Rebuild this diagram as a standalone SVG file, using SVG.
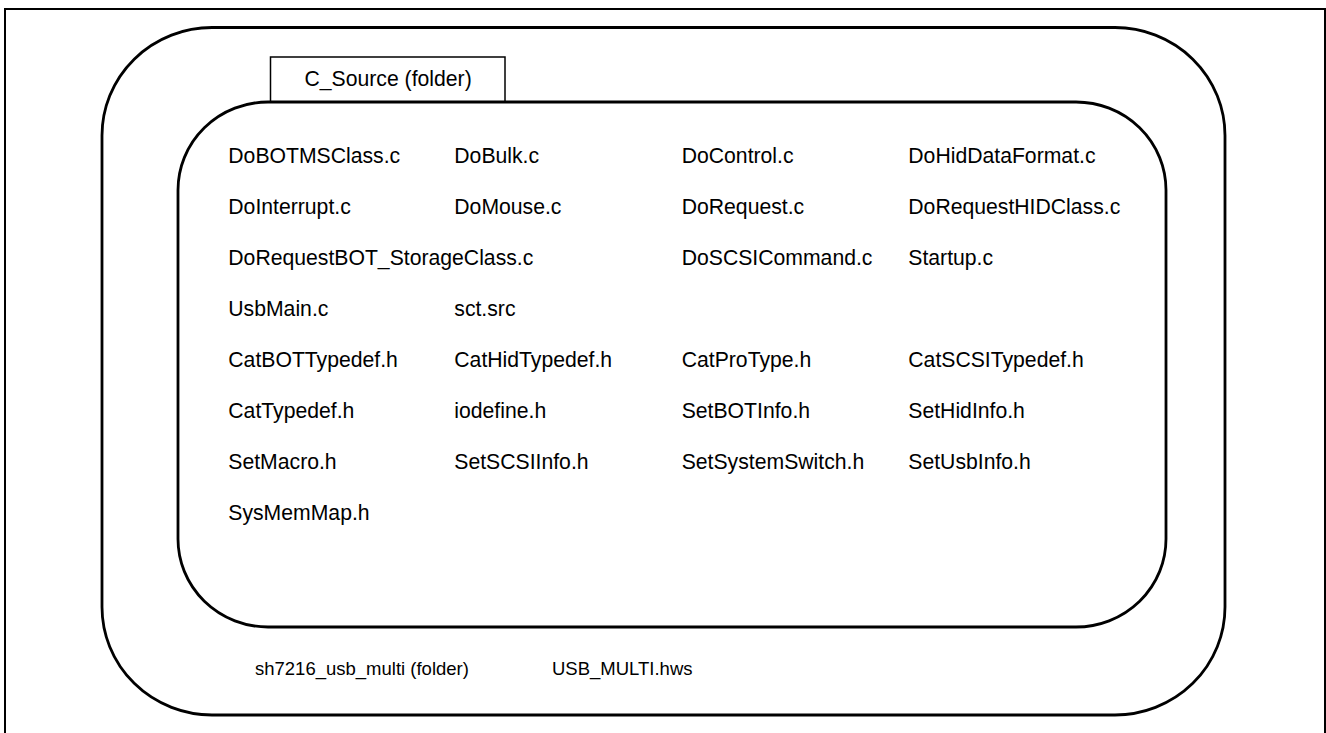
<svg xmlns="http://www.w3.org/2000/svg" width="1326" height="733" viewBox="0 0 1326 733">
<style>
.t{font-family:"Liberation Sans",Arial,sans-serif;font-size:21.2px;fill:#000}
.b{font-family:"Liberation Sans",Arial,sans-serif;font-size:18.5px;fill:#000}
.box{fill:none;stroke:#000}
</style>
<rect x="0" y="0" width="1326" height="733" fill="#fff"/>
<rect id="frame" class="box" x="5" y="9" width="1320" height="730" stroke-width="2"/>
<g id="sh7216_usb_multi">
<rect class="box" x="102" y="27.5" width="1123" height="687.5" rx="110" ry="108" stroke-width="2.8"/>
<text class="b" x="255" y="675">sh7216_usb_multi (folder)</text>
<text class="b" x="552" y="675">USB_MULTI.hws</text>
</g>
<g id="C_Source">
<rect class="box" x="270.5" y="57" width="234.5" height="45" stroke-width="1.5" fill="#fff"/>
<text class="t" x="304.5" y="86">C_Source (folder)</text>
<rect class="box" x="178" y="102" width="988" height="525" rx="90" ry="88" stroke-width="2.8"/>
</g>
<g id="files">
<text class="t" x="228.3" y="163">DoBOTMSClass.c</text>
<text class="t" x="454.3" y="163">DoBulk.c</text>
<text class="t" x="681.7" y="163">DoControl.c</text>
<text class="t" x="908.3" y="163">DoHidDataFormat.c</text>
<text class="t" x="228.3" y="214">DoInterrupt.c</text>
<text class="t" x="454.3" y="214">DoMouse.c</text>
<text class="t" x="681.7" y="214">DoRequest.c</text>
<text class="t" x="908.3" y="214">DoRequestHIDClass.c</text>
<text class="t" x="228.3" y="265">DoRequestBOT_StorageClass.c</text>
<text class="t" x="681.7" y="265">DoSCSICommand.c</text>
<text class="t" x="908.3" y="265">Startup.c</text>
<text class="t" x="228.3" y="316">UsbMain.c</text>
<text class="t" x="454.3" y="316">sct.src</text>
<text class="t" x="228.3" y="367">CatBOTTypedef.h</text>
<text class="t" x="454.3" y="367">CatHidTypedef.h</text>
<text class="t" x="681.7" y="367">CatProType.h</text>
<text class="t" x="908.3" y="367">CatSCSITypedef.h</text>
<text class="t" x="228.3" y="418">CatTypedef.h</text>
<text class="t" x="454.3" y="418">iodefine.h</text>
<text class="t" x="681.7" y="418">SetBOTInfo.h</text>
<text class="t" x="908.3" y="418">SetHidInfo.h</text>
<text class="t" x="228.3" y="469">SetMacro.h</text>
<text class="t" x="454.3" y="469">SetSCSIInfo.h</text>
<text class="t" x="681.7" y="469">SetSystemSwitch.h</text>
<text class="t" x="908.3" y="469">SetUsbInfo.h</text>
<text class="t" x="228.3" y="520">SysMemMap.h</text>
</g>
</svg>
